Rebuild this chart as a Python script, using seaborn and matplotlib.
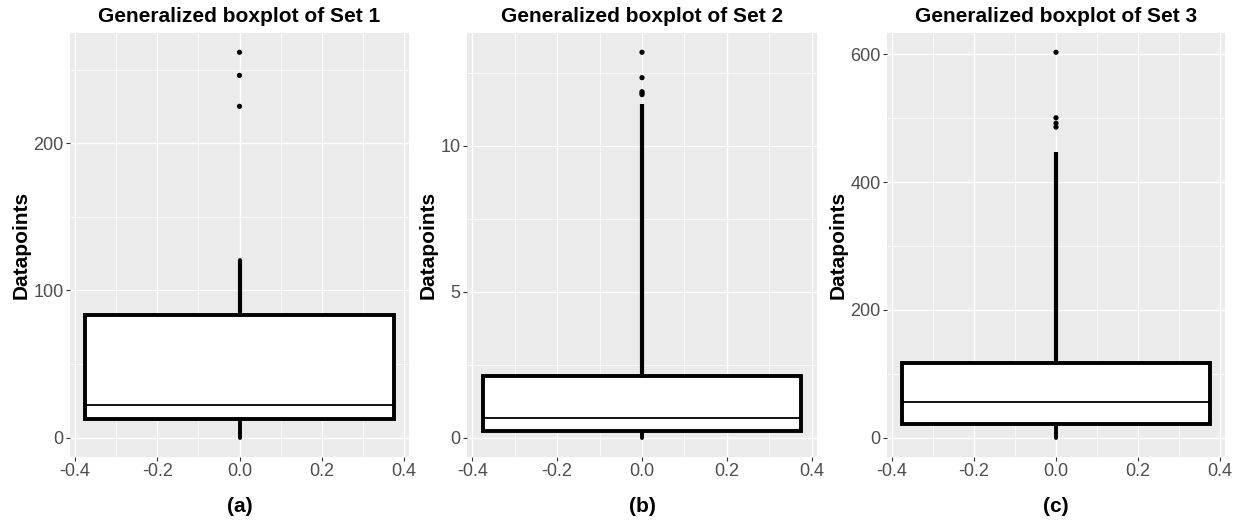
import matplotlib
matplotlib.use("Agg")
import matplotlib.pyplot as plt
import seaborn as sns
import numpy as np

# ---- data ----
titles = ["Generalized boxplot of Set 1", "Generalized boxplot of Set 2", "Generalized boxplot of Set 3"]
captions = ["(a)", "(b)", "(c)"]

# box: q1, median, q3
set1_box = [13, 22, 83]
set2_box = [0.23, 0.69, 2.1]
set3_box = [22, 56, 117]

# whiskers: low, high
set1_whiskers = [0, 120.5]
set2_whiskers = [0, 2.3]
set3_whiskers = [0, 125]

# dense run of outliers (drawn as a continuous column of points)
set1_dense = [83, 120.5]
set2_dense = [2.2, 11.42]
set3_dense = [117, 447]

# isolated outliers
set1_outliers = [225, 246, 261.7]
set2_outliers = [11.75, 11.8, 11.85, 12.33, 13.2]
set3_outliers = [486, 492, 500.5, 603]

y_major = [[0, 100, 200], [0, 5, 10], [0, 200, 400, 600]]
y_minor = [[50, 150, 250], [2.5, 7.5, 12.5], [100, 300, 500]]
x_major = [-0.4, -0.2, 0.0, 0.2, 0.4]
x_minor = [-0.3, -0.1, 0.1, 0.3]

boxes = [set1_box, set2_box, set3_box]
whiskers = [set1_whiskers, set2_whiskers, set3_whiskers]
denses = [set1_dense, set2_dense, set3_dense]
outliers = [set1_outliers, set2_outliers, set3_outliers]

# ---- style ----
sns.set_theme(style="darkgrid", rc={
    "axes.facecolor": "#EBEBEB",
    "grid.color": "white",
    "axes.edgecolor": "#EBEBEB",
})
plt.rcParams["font.family"] = ["Liberation Sans", "DejaVu Sans"]
plt.rcParams["axes.unicode_minus"] = False

fig = plt.figure(figsize=(12.38, 5.21), dpi=100)
W, H = 1238, 521
panels = [(70, 409), (467, 817), (887, 1225)]
top_px, bot_px = 33, 457

for i in range(3):
    l, r = panels[i]
    ax = fig.add_axes([l / W, 1 - bot_px / H, (r - l) / W, (bot_px - top_px) / H])
    q1, med, q3 = boxes[i]
    stats = [{
        "q1": q1, "med": med, "q3": q3,
        "whislo": whiskers[i][0], "whishi": whiskers[i][1],
        "fliers": [],
    }]
    ax.bxp(stats, positions=[0], widths=0.75, showcaps=False, showfliers=False,
           patch_artist=True,
           boxprops=dict(facecolor="white", edgecolor="black", linewidth=2.8),
           medianprops=dict(color="black", linewidth=1.3),
           whiskerprops=dict(color="black", linewidth=2.8),
           manage_ticks=False, zorder=3)
    ax.vlines(0, denses[i][0], denses[i][1], color="black", linewidth=3.0, zorder=4)
    sns.scatterplot(x=[0.0] * len(outliers[i]), y=outliers[i], ax=ax, color="black",
                    s=14, edgecolor="none", linewidth=0, zorder=5)

    ymax = max(outliers[i])
    ymin = 0
    pad = 0.05 * (ymax - ymin)
    ax.set_ylim(ymin - pad, ymax + pad)
    ax.set_xlim(-0.4125, 0.4125)

    ax.set_yticks(y_major[i])
    ax.set_yticklabels([str(v) for v in y_major[i]])
    ax.set_yticks(y_minor[i], minor=True)
    ax.set_xticks(x_major)
    ax.set_xticklabels([f"{v:.1f}" for v in x_major])
    ax.set_xticks(x_minor, minor=True)
    ax.grid(which="major", color="white", linewidth=1.0)
    ax.grid(which="minor", color="white", linewidth=0.5)
    ax.set_axisbelow(True)
    ax.tick_params(axis="both", which="major", length=3.0, width=0.8, color="#333333",
                   labelsize=13, labelcolor="#4D4D4D", pad=1.5, direction="out",
                   bottom=True, left=True)
    ax.tick_params(axis="both", which="minor", length=0)
    for s in ax.spines.values():
        s.set_visible(False)

    ax.set_title(titles[i], fontsize=15, fontweight="bold", color="black", pad=8)
    ax.set_ylabel("Datapoints", fontsize=15, fontweight="bold", color="black", labelpad=2)
    ax.set_xlabel(captions[i], fontsize=15, fontweight="bold", color="black", labelpad=12)

fig.savefig("out.png", dpi=100)
